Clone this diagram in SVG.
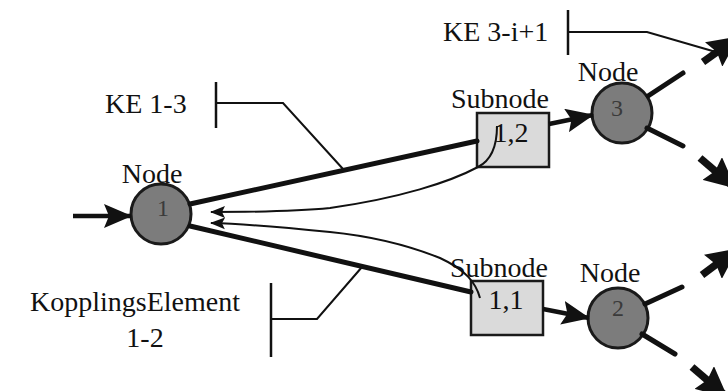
<svg xmlns="http://www.w3.org/2000/svg" width="728" height="391" viewBox="0 0 728 391">
  <style>
    text { font-family: "Liberation Serif", "Times New Roman", serif; font-size: 28px; fill: #111; }
    .mid { text-anchor: middle; }
    .digit { font-size: 24px; fill: #3a3a3a; text-anchor: middle; }
    .node circle { fill: #7c7c7c; stroke: #1a1a1a; stroke-width: 3; }
    .sub rect { fill: #dadada; stroke: #1a1a1a; stroke-width: 2.5; }
    .thick { stroke: #111; stroke-width: 5; fill: none; stroke-linecap: round; }
    .flow { stroke: #111; stroke-width: 4.5; fill: none; }
    .spoke { stroke: #111; stroke-width: 5; fill: none; stroke-linecap: round; }
    .out { stroke: #111; stroke-width: 7.5; fill: none; }
    .ret { stroke: #111; stroke-width: 2; fill: none; }
    .lead { stroke: #111; stroke-width: 2; fill: none; }
    .bar { stroke: #111; stroke-width: 2.5; }
  </style>
  <defs>
    <marker id="head" markerUnits="userSpaceOnUse" markerWidth="30" markerHeight="24" refX="27" refY="12" orient="auto">
      <path d="M0,0 L28,12 L0,24 L5,12 z" fill="#111"/>
    </marker>
    <marker id="small" markerUnits="userSpaceOnUse" markerWidth="16" markerHeight="14" refX="14" refY="7" orient="auto">
      <path d="M0,1 L15,7 L0,13 L3,7 z" fill="#111"/>
    </marker>
    <marker id="big" markerUnits="userSpaceOnUse" markerWidth="32" markerHeight="30" refX="30" refY="15" orient="auto">
      <path d="M0,0 L31,15 L0,30 L4,15 z" fill="#111"/>
    </marker>
  </defs>

  <rect width="728" height="391" fill="#fff"/>

  <!-- labels of the coupling elements with their leader lines -->
  <g id="label-ke-3">
    <text x="443" y="41">KE 3-i+1</text>
    <line class="bar" x1="568" y1="10" x2="568" y2="55"/>
    <polyline class="lead" points="568,32 647,32 716,52"/>
  </g>
  <g id="label-ke-13">
    <text x="105" y="113">KE 1-3</text>
    <line class="bar" x1="216" y1="82" x2="216" y2="128"/>
    <polyline class="lead" points="216,103 283,103 343,169"/>
  </g>
  <g id="label-ke-12">
    <text x="30" y="311">KopplingsElement</text>
    <text class="mid" x="145" y="347">1-2</text>
    <line class="bar" x1="271" y1="283" x2="271" y2="357"/>
    <polyline class="lead" points="271,319 317,319 362,267"/>
  </g>

  <!-- nodes -->
  <g id="node-1" class="node">
    <text class="mid" x="152" y="183">Node</text>
    <circle cx="161" cy="214" r="30"/>
    <text class="digit" x="163" y="216">1</text>
  </g>
  <g id="node-3" class="node">
    <text class="mid" x="608" y="81">Node</text>
    <circle cx="622" cy="113" r="30"/>
    <text class="digit" x="617" y="116">3</text>
  </g>
  <g id="node-2" class="node">
    <text class="mid" x="610" y="282">Node</text>
    <circle cx="618" cy="318" r="30"/>
    <text class="digit" x="618" y="316">2</text>
  </g>
  <g id="subnode-12" class="sub">
    <text class="mid" x="500" y="108">Subnode</text>
    <rect x="477" y="113" width="72" height="54"/>
    <text class="mid" x="511" y="142">1,2</text>
  </g>
  <g id="subnode-11" class="sub">
    <text class="mid" x="499" y="277">Subnode</text>
    <rect x="471" y="281" width="72" height="54"/>
    <text class="mid" x="506" y="309">1,1</text>
  </g>

  <!-- connectors -->
  <g id="connectors">
    <line class="flow" x1="73" y1="216" x2="131" y2="216" marker-end="url(#head)"/>
    <line class="thick" x1="190" y1="204" x2="477" y2="141"/>
    <line class="thick" x1="190" y1="226" x2="471" y2="292"/>
    <line class="flow" x1="549" y1="124" x2="593" y2="115" marker-end="url(#head)"/>
    <line class="flow" x1="543" y1="309" x2="589" y2="318" marker-end="url(#head)"/>
    <path class="ret" d="M497,126 C497,145 492,160 478,167 C450,182 400,198 330,208 C290,212 250,212 211,212" marker-end="url(#small)"/>
    <path class="ret" d="M480,298 C476,283 466,270 440,258 C410,246 370,236 330,232 C290,228 250,224 211,223" marker-end="url(#small)"/>
    <line class="spoke" x1="648" y1="96" x2="683" y2="73"/>
    <line class="spoke" x1="647" y1="128" x2="683" y2="146"/>
    <line class="spoke" x1="645" y1="304" x2="682" y2="287"/>
    <line class="spoke" x1="642" y1="334" x2="675" y2="354"/>
    <line class="out" x1="703" y1="62" x2="738" y2="37" marker-end="url(#big)"/>
    <line class="out" x1="700" y1="158" x2="735" y2="188" marker-end="url(#big)"/>
    <line class="out" x1="702" y1="275" x2="737" y2="249" marker-end="url(#big)"/>
    <line class="out" x1="692" y1="367" x2="727" y2="397" marker-end="url(#big)"/>
  </g>
</svg>
